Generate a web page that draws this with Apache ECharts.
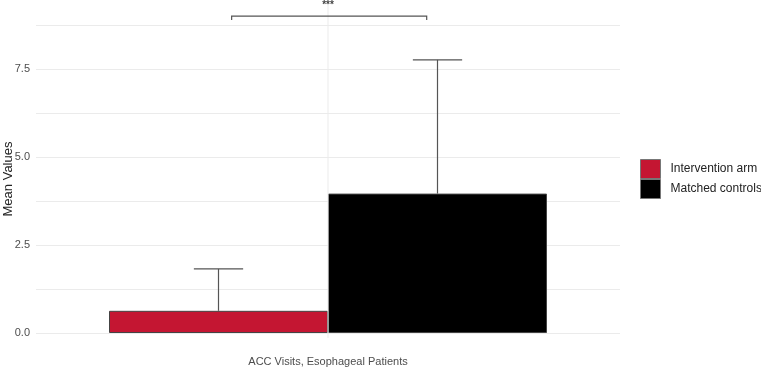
<!DOCTYPE html>
<html>
<head>
<meta charset="utf-8">
<script src="https://cdn.jsdelivr.net/npm/echarts@6/dist/echarts.min.js"></script>
<style>
  html, body { margin: 0; padding: 0; background: #fff; }
  #main { width: 761px; height: 367px; }
</style>
</head>
<body>
<div id="main"></div>
<script>
  // data
  var categories = ['ACC Visits, Esophageal Patients'];
  var groups = ['Intervention arm', 'Matched controls'];
  var groupColors = ['#c41632', '#000000'];
  var means = [0.63, 3.96];
  var upper = [1.82, 7.76];
  var bracketValue = 9.0;
  var bracketLabel = '***';
  var yTicks = [0, 2.5, 5.0, 7.5];

  var barFrac = 0.375;   // bar width as share of the category band

  var chart = echarts.init(document.getElementById('main'));

  var barSeries = groups.map(function (g, i) {
    return {
      name: g,
      type: 'bar',
      barWidth: (barFrac * 100) + '%',
      barGap: 0,
      z: 2,
      itemStyle: { color: groupColors[i], borderColor: '#444', borderWidth: 1 },
      data: [means[i]]
    };
  });

  // error bars, vertical centre gridline, significance bracket
  var overlay = {
    type: 'custom',
    z: 3,
    silent: true,
    clip: false,
    data: [[0, 0]],
    renderItem: function (params, api) {
      var cx = api.coord([0, 0])[0];
      var band = api.size([1, 0])[0];
      var bw = band * barFrac;
      var lineStyle = { stroke: '#555', lineWidth: 1.2, fill: null };
      var kids = [];
      // vertical grid line at the category
      var vTop = api.coord([0, 9.35])[1];
      var vBot = api.coord([0, -0.14])[1];
      kids.push({ type: 'line', z2: -10, shape: { x1: cx, y1: vTop, x2: cx, y2: vBot },
        style: { stroke: '#ebebeb', lineWidth: 1 } });
      groups.forEach(function (g, i) {
        var x = cx + (i - 0.5) * bw;
        var y0 = api.coord([0, means[i]])[1];
        var y1 = api.coord([0, upper[i]])[1];
        var cap = bw * 0.225 / 2;
        kids.push({ type: 'line', shape: { x1: x, y1: y0, x2: x, y2: y1 }, style: lineStyle });
        kids.push({ type: 'line', shape: { x1: x - cap, y1: y1, x2: x + cap, y2: y1 }, style: lineStyle });
      });
      var bl = cx - band * 0.165, br = cx + band * 0.169;
      var by = api.coord([0, bracketValue])[1];
      var tip = api.coord([0, bracketValue - 0.11])[1];
      kids.push({ type: 'polyline', shape: { points: [[bl, tip], [bl, by], [br, by], [br, tip]] },
        style: { stroke: '#555', lineWidth: 1.2, fill: null } });
      var ty = api.coord([0, bracketValue + 0.31])[1];
      kids.push({ type: 'text', style: { text: bracketLabel, x: cx, y: ty, align: 'center',
        verticalAlign: 'middle', fill: '#444', font: 'bold 10px "Liberation Sans", Arial' } });
      return { type: 'group', children: kids };
    }
  };

  var option = {
    animation: false,
    textStyle: { fontFamily: '"Liberation Sans", Arial, sans-serif' },
    grid: { left: 36, right: 141, top: 25, bottom: 34, containLabel: false, outerBoundsMode: 'none' },
    legend: {
      data: groups,
      orient: 'vertical',
      left: 640,
      top: 159,
      padding: 0,
      itemWidth: 20,
      itemHeight: 19,
      itemGap: 0,
      icon: 'rect',
      itemStyle: { borderColor: '#777', borderWidth: 1 },
      textStyle: { color: '#222', fontSize: 12, padding: [0, 0, 0, 5] }
    },
    xAxis: {
      type: 'category',
      data: categories,
      axisLine: { show: false },
      axisTick: { show: false },
      splitLine: { show: false },
      axisLabel: { color: '#4d4d4d', fontSize: 11, margin: 23 }
    },
    yAxis: {
      type: 'value',
      min: 0,
      max: 8.75,
      interval: 1.25,
      name: 'Mean Values',
      nameLocation: 'middle',
      nameGap: 21,
      nameMoveOverlap: false,
      nameTextStyle: { color: '#222', fontSize: 13 },
      axisLine: { show: false },
      axisTick: { show: false },
      splitLine: { lineStyle: { color: '#ebebeb', width: 1 } },
      axisLabel: {
        color: '#4d4d4d',
        fontSize: 11,
        margin: 6,
        formatter: function (v) {
          for (var i = 0; i < yTicks.length; i++) {
            if (Math.abs(v - yTicks[i]) < 1e-6) return yTicks[i].toFixed(1);
          }
          return '';
        }
      }
    },
    series: barSeries.concat([overlay])
  };

  chart.setOption(option);
</script>
</body>
</html>
